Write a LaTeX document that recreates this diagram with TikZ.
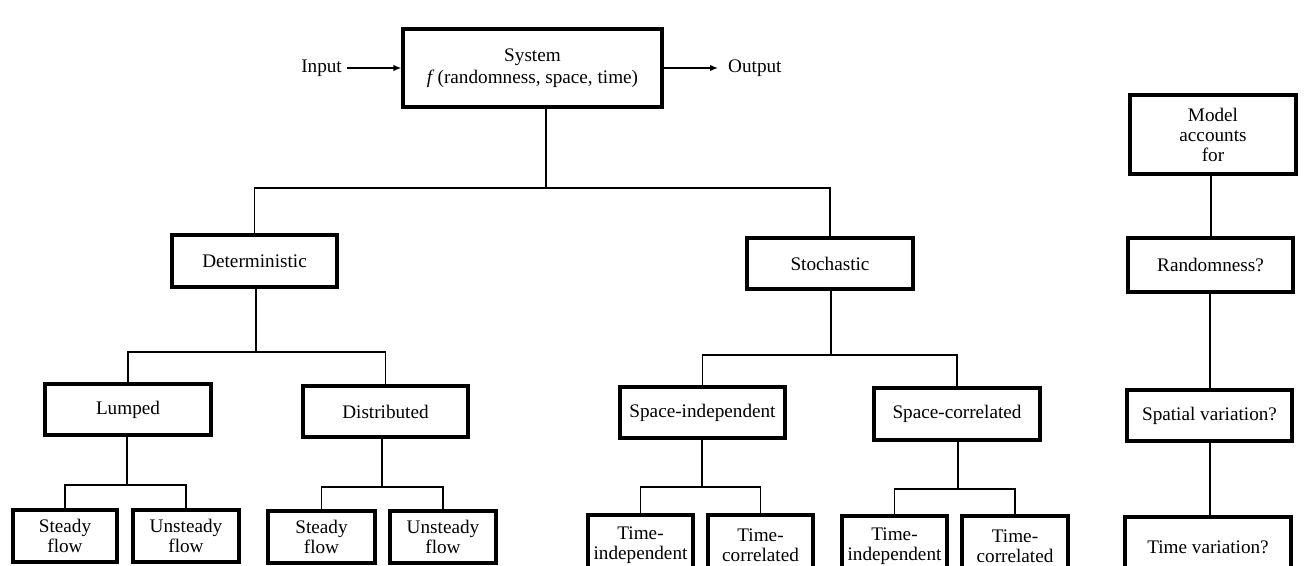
\documentclass[tikz,border=0pt]{standalone}
\usepackage{fontspec}
\setmainfont{Liberation Serif}
\usetikzlibrary{arrows.meta,calc}
\begin{document}
\begin{tikzpicture}[x=1pt,y=-1pt,
  box/.style={draw, line width=3.2pt, fill=white, align=center, inner sep=0pt,
    font=\fontsize{19.2}{20}\selectfont},
  conn/.style={line width=1.5pt},
  arr/.style={line width=1.4pt, -{Latex[length=8pt,width=6.5pt]}},
  lbl/.style={font=\fontsize{19.2}{20}\selectfont, inner sep=0pt}]
\useasboundingbox (0,0) rectangle (1305,565);
\clip (0,0) rectangle (1305,565);
\fill[white] (0,0) rectangle (1305,565);

% top
\node[box, minimum width=259pt, minimum height=78pt, font=\fontsize{19.2}{22}\selectfont] (sys) at (532.5,68)
  {System\\\textit{f}\,(randomness, space, time)};
\node[lbl, anchor=east] (in) at (342,68) {Input};
\node[lbl, anchor=west] (out) at (728,68) {Output};
\draw[arr] ($(in.east)+(5,0)$) -- (sys.west);
\draw[arr] (sys.east) -- ($(out.west)+(-10,0)$);

% level 1
\node[box, minimum width=165pt, minimum height=52pt] (det) at (254.5,261) {Deterministic};
\node[box, minimum width=166pt, minimum height=51pt] (sto) at (830,263.5) {Stochastic};

% level 2
\node[box, minimum width=166pt, minimum height=51pt] (lum) at (128,409.5) {Lumped};
\node[box, minimum width=165pt, minimum height=51pt] (dis) at (385.5,411.5) {Distributed};
\node[box, minimum width=165pt, minimum height=51pt] (spi) at (702.5,412.5) {Space-independent};
\node[box, minimum width=166pt, minimum height=52pt] (spc) at (957,414) {Space-correlated};

% level 3
\node[box, minimum width=104pt, minimum height=52pt] (sf1) at (65,536) {Steady\\flow};
\node[box, minimum width=106pt, minimum height=52pt] (uf1) at (186,536) {Unsteady\\flow};
\node[box, minimum width=107pt, minimum height=52pt] (sf2) at (321.5,537) {Steady\\flow};
\node[box, minimum width=106pt, minimum height=52pt] (uf2) at (443,537) {Unsteady\\flow};
\node[box, minimum width=105pt, minimum height=60pt] (ti1) at (640.5,545) {Time-\\independent};
\node[box, minimum width=105pt, minimum height=60pt] (tc1) at (760.5,545) {Time-\\correlated};
\node[box, minimum width=105pt, minimum height=60pt] (ti2) at (894.5,546) {Time-\\independent};
\node[box, minimum width=106pt, minimum height=60pt] (tc2) at (1015,546) {Time-\\correlated};

% right column
\node[box, minimum width=166pt, minimum height=79pt] (mod) at (1213,134.5) {Model\\accounts\\for};
\node[box, minimum width=165pt, minimum height=54pt] (ran) at (1210.5,265) {Randomness?};
\node[box, minimum width=165pt, minimum height=51pt] (spa) at (1209.5,415.5) {Spatial variation?};
\node[box, minimum width=166pt, minimum height=60pt] (tim) at (1208,547) {Time variation?};

% junctions
\coordinate (j0) at (546,188);
\coordinate (j1) at (256,352);
\coordinate (j2) at (831,355);
\coordinate (j3) at (127,485);
\coordinate (j4) at (382,487);
\coordinate (j5) at (702,487);
\coordinate (j6) at (958,489);

\draw[conn] (j0 |- sys.south) -- (j0);
\draw[conn] (det.north) |- (j0) -| (sto.north);
\draw[conn] (j1 |- det.south) -- (j1);
\draw[conn] (lum.north) |- (j1) -| (dis.north);
\draw[conn] (j2 |- sto.south) -- (j2);
\draw[conn] (spi.north) |- (j2) -| (spc.north);
\draw[conn] (j3 |- lum.south) -- (j3);
\draw[conn] (sf1.north) |- (j3) -| (uf1.north);
\draw[conn] (j4 |- dis.south) -- (j4);
\draw[conn] (sf2.north) |- (j4) -| (uf2.north);
\draw[conn] (j5 |- spi.south) -- (j5);
\draw[conn] (ti1.north) |- (j5) -| (tc1.north);
\draw[conn] (j6 |- spc.south) -- (j6);
\draw[conn] (ti2.north) |- (j6) -| (tc2.north);

\draw[conn] (mod.south -| 1211,0) -- (ran.north -| 1211,0);
\draw[conn] (ran.south -| 1210,0) -- (spa.north -| 1210,0);
\draw[conn] (spa.south -| 1210,0) -- (tim.north -| 1210,0);
\end{tikzpicture}
\end{document}
